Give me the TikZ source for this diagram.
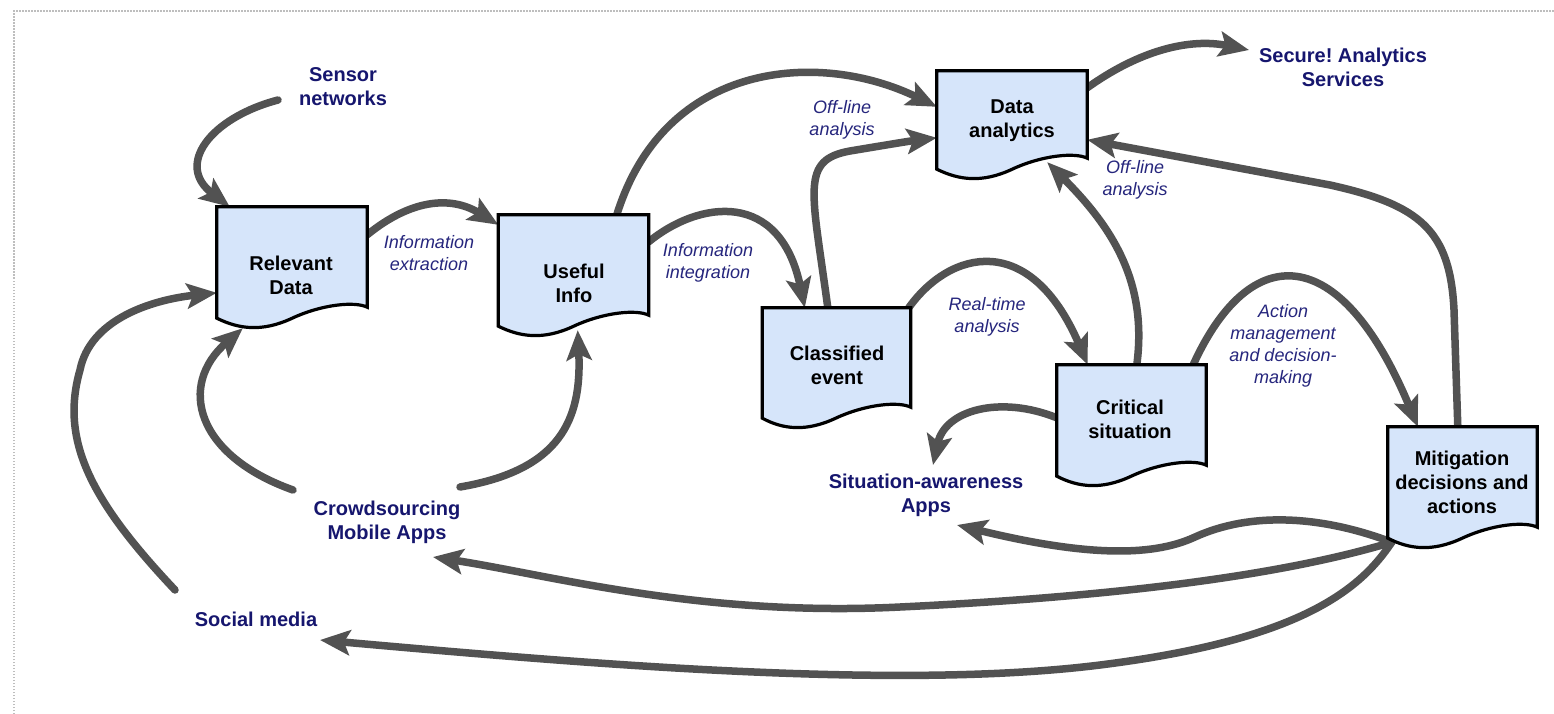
\documentclass[tikz,border=0pt]{standalone}
\usepackage{fontspec}
\setmainfont{Liberation Sans}
\usetikzlibrary{arrows.meta,calc}
\frenchspacing

\definecolor{boxfill}{RGB}{214,229,250}
\definecolor{navy}{RGB}{22,22,110}
\definecolor{lblblue}{RGB}{38,38,125}
\definecolor{arrowgray}{RGB}{82,82,82}
\definecolor{framegray}{RGB}{190,190,190}

\tikzset{
  docbox/.style={rectangle, inner sep=0pt, minimum width=150pt, minimum height=100pt},
  docshape/.style={draw=black, fill=boxfill, line width=3.2pt, line join=miter},
  boxtext/.style={align=center, inner sep=0pt, text=black,
    font=\fontsize{20}{24}\selectfont\bfseries},
  ext/.style={align=center, inner sep=0pt, text=navy,
    font=\fontsize{20}{24}\selectfont\bfseries},
  lbl/.style={align=center, inner sep=0pt, text=lblblue,
    font=\fontsize{18}{22}\selectfont\itshape},
  conn/.style={draw=arrowgray, line width=7.5pt, line cap=round,
    -{Stealth[length=30pt,width=25pt,inset=6pt]}},
}

\begin{document}
\begin{tikzpicture}[x=1pt, y=-1pt]
  \useasboundingbox (0,0) rectangle (1554,714);
  \fill[white] (0,0) rectangle (1554,714);
  % dotted page frame
  \draw[framegray, line width=1.5pt, dash pattern=on 1.5pt off 1.5pt]
    (14,714) -- (14,11) -- (1554,11);

  % document boxes (outlines are drawn further down)
  \node[docbox] (rd) at (292,257) {};
  \node[docbox] (ui) at (573.5,265) {};
  \node[docbox, minimum height=87pt] (da) at (1012,114.5) {};
  \node[docbox, minimum width=148pt, minimum height=99pt] (ce) at (836.5,357.5) {};
  \node[docbox, minimum width=149pt] (cs) at (1131.5,415) {};
  \node[docbox, minimum width=149pt] (mi) at (1462.5,477) {};

  % sources and sinks
  \node[ext] (sn)  at (343,87)   {Sensor\\networks};
  \node[ext] (sa)  at (1343,67)  {Secure! Analytics\\Services};
  \node[ext] (cm)  at (387,522)  {Crowdsourcing\\Mobile Apps};
  \node[ext] (sm)  at (256,619)  {Social media};
  \node[ext] (saw) at (926,495)  {Situation-awareness\\Apps};

  % process labels
  \node[lbl] (l1) at (429,253)  {Information\\extraction};
  \node[lbl] (l2) at (708,263)  {Information\\integration};
  \node[lbl] (l3) at (842,120)  {Off-line\\analysis};
  \node[lbl] (l4) at (1135,180) {Off-line\\analysis};
  \node[lbl] (l5) at (987,317)  {Real-time\\analysis};
  \node[lbl] (l6) at (1283,346) {Action\\management\\and decision-\\making};

  % flows
  \draw[conn] ($(sn)+(-65,13)$) .. controls (210,118) and (175,165) .. ($(rd.north west)+(13,0)$);
  \draw[conn] ($(rd.north east)+(0,28)$) .. controls (410,200) and (450,195) .. ($(ui.north west)+(0,10)$);
  \draw[conn] ($(ui.north east)+(0,27)$) .. controls (700,200) and (780,190) .. ($(ce.north west)+(42.5,0)$);
  \draw[conn] ($(ui.north west)+(118.5,0)$) .. controls (665,60) and (820,50) .. ($(da.north west)+(0,36)$);
  \draw[conn] ($(ce.north west)+(65.5,0)$) .. controls (812,190) and (800,160) .. (850,151)
              .. controls (880,146) and (910,141) .. ($(da.north west)+(0,67)$);
  \draw[conn] ($(ce.north east)+(-2,0)$) .. controls (950,250) and (1030,230) .. ($(cs.north west)+(31,0)$);
  \draw[conn] ($(cs.north west)+(80,0)$) .. controls (1148,280) and (1110,225) .. ($(da.south east)+(-40,4)$);
  \draw[conn] ($(cs.north east)+(-13,0)$) .. controls (1250,240) and (1340,240) .. ($(mi.north west)+(30,0)$);
  \draw[conn] ($(mi.north west)+(70,0)$) -- (1454,310) .. controls (1450,230) and (1420,205) .. (1330,185)
              -- ($(da.north east)+(0,69)$);
  \draw[conn] ($(da.north east)+(0,17)$) .. controls (1140,50) and (1190,38) .. ($(sa)+(-94,-17)$);
  \draw[conn] ($(cs.north west)+(0,53)$) .. controls (1000,395) and (945,410) .. ($(saw)+(7,-30)$);
  \draw[conn] ($(mi.south west)+(4,15)$) .. controls (1320,515) and (1250,512) .. (1195,537)
              .. controls (1150,558) and (1080,555) .. ($(saw)+(31,30)$);
  \draw[conn] ($(mi.south west)+(4,15)$) .. controls (1300,570) and (1150,595) .. (900,607)
              .. controls (700,617) and (550,575) .. ($(cm)+(46,35)$);
  \draw[conn] ($(mi.south west)+(4,15)$) .. controls (1360,590) and (1300,640) .. (1100,665)
              .. controls (900,690) and (600,665) .. ($(sm)+(64,21)$);
  \draw[conn] ($(cm)+(73,-35)$) .. controls (560,470) and (582,420) .. ($(ui.south east)+(-71,15)$);
  \draw[conn] ($(cm)+(-94,-32)$) .. controls (195,455) and (178,385) .. ($(rd.south west)+(26,21)$);
  \draw[conn] ($(sm)+(-81,-29)$) .. controls (90,500) and (60,440) .. (80,370)
              .. controls (90,320) and (150,300) .. ($(rd.north west)+(0,86)$);

  % document outlines with wavy bottom edge
  \foreach \n in {rd,ui,da,ce,cs,mi}{
    \filldraw[docshape] (\n.north west) -- (\n.north east) -- (\n.south east)
      .. controls ($(\n.south east)+(-12,-6)$) and ($(\n.south east)+(-45,-3)$) .. ($(\n.south east)+(-75,11)$)
      .. controls ($(\n.south east)+(-105,25)$) and ($(\n.south east)+(-128,22)$) .. ($(\n.south west)+(0,11)$)
      -- cycle;
  }

  % box captions
  \node[boxtext] (rdt) at (291,275)    {Relevant\\Data};
  \node[boxtext] (uit) at (574,283.5)  {Useful\\Info};
  \node[boxtext] (dat) at (1012,121)   {Data\\analytics};
  \node[boxtext] (cet) at (837,365)    {Classified\\event};
  \node[boxtext] (cst) at (1130,419.5) {Critical\\situation};
  \node[boxtext] (mit) at (1462,482.5) {Mitigation\\decisions and\\actions};
\end{tikzpicture}
\end{document}
